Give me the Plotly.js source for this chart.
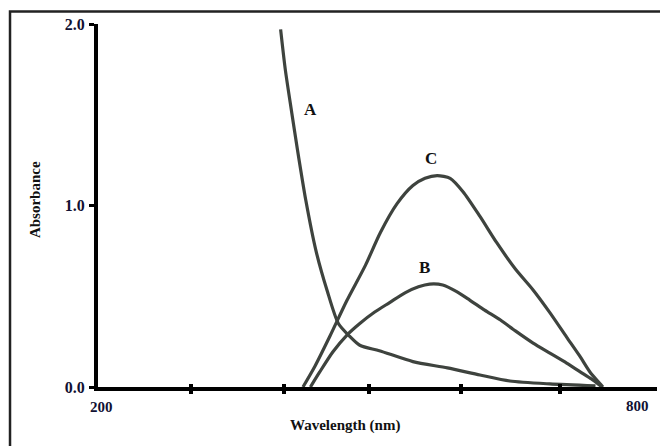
<!DOCTYPE html>
<html>
<head>
<meta charset="utf-8">
<script src="https://cdn.plot.ly/plotly-3.0.1.min.js"></script>
<style>html,body{margin:0;padding:0;background:#fff;}#chart{width:660px;height:446px;}</style>
</head>
<body>
<div id="chart"></div>
<script>
// Curve A
const wavelengthA = [396, 401, 408, 414, 423, 434, 446, 458, 470, 481, 502, 538, 575, 610, 642, 685, 734];
const absorbanceA = [1.97, 1.75, 1.51, 1.31, 1.03, 0.75, 0.53, 0.35, 0.28, 0.23, 0.20, 0.14, 0.105, 0.066, 0.033, 0.017, 0.006];
// Curve B
const wavelengthB = [428, 438, 452, 467, 481, 497, 513, 530, 544, 556, 570, 585, 599, 615, 632, 648, 667, 685, 703, 721, 731, 741];
const absorbanceB = [0.0, 0.083, 0.193, 0.285, 0.350, 0.413, 0.465, 0.520, 0.552, 0.567, 0.562, 0.525, 0.479, 0.424, 0.369, 0.309, 0.242, 0.187, 0.132, 0.072, 0.039, 0.0];
// Curve C
const wavelengthC = [420, 433, 449, 467, 487, 503, 521, 538, 551, 564, 578, 592, 610, 628, 648, 667, 685, 703, 717, 728, 739, 742];
const absorbanceC = [0.0, 0.116, 0.281, 0.475, 0.670, 0.850, 1.010, 1.110, 1.150, 1.165, 1.150, 1.075, 0.940, 0.795, 0.650, 0.535, 0.410, 0.275, 0.171, 0.083, 0.017, 0.0];

const yTickVals = [0, 1, 2];
const yTickText = ["0.0", "1.0", "2.0"];
const xTickMarks = [300, 400, 491, 590, 696];
const xEndLabels = ["200", "800"];
const curveNames = ["A", "B", "C"];
const curveLabelPos = [[428, 1.53], [550, 0.66], [557, 1.26]];

const lineStyle = {color: '#3e433e', width: 3.2, shape: 'spline', smoothing: 0.7};
const serif = '"Liberation Serif", "Times New Roman", serif';

const traces = [
  {x: wavelengthA, y: absorbanceA, mode: 'lines', line: lineStyle, name: curveNames[0]},
  {x: wavelengthB, y: absorbanceB, mode: 'lines', line: lineStyle, name: curveNames[1]},
  {x: wavelengthC, y: absorbanceC, mode: 'lines', line: lineStyle, name: curveNames[2]},
  {x: [200, 800], y: [null, null], xaxis: 'x2', mode: 'lines', showlegend: false, hoverinfo: 'skip'}
];

const annotations = [];
curveNames.forEach((n, i) => {
  annotations.push({x: curveLabelPos[i][0], y: curveLabelPos[i][1], xref: 'x', yref: 'y', text: '<b>' + n + '</b>',
    showarrow: false, xanchor: 'center', yanchor: 'middle', font: {family: serif, size: 17, color: '#111'}});
});
annotations.push({x: 0.007, y: -0.055, xref: 'paper', yref: 'paper', text: '<b>' + xEndLabels[0] + '</b>', showarrow: false,
  xanchor: 'center', yanchor: 'middle', font: {family: serif, size: 15, color: '#111133'}});
annotations.push({x: 0.966, y: -0.053, xref: 'paper', yref: 'paper', text: '<b>' + xEndLabels[1] + '</b>', showarrow: false,
  xanchor: 'center', yanchor: 'middle', font: {family: serif, size: 15, color: '#111133'}});
annotations.push({x: 0.442, y: -0.107, xref: 'paper', yref: 'paper', text: '<b>Wavelength (nm)</b>', showarrow: false,
  xanchor: 'center', yanchor: 'middle', font: {family: serif, size: 15, color: '#111'}});
annotations.push({x: -0.1127, y: 0.515, xref: 'paper', yref: 'paper', text: '<b>Absorbance</b>', showarrow: false, textangle: -90,
  xanchor: 'center', yanchor: 'middle', font: {family: serif, size: 15, color: '#111'}});

const layout = {
  width: 660, height: 446,
  margin: {l: 98, r: 3, t: 24, b: 59},
  paper_bgcolor: '#fff', plot_bgcolor: '#fff',
  showlegend: false,
  font: {family: serif},
  xaxis: {range: [200, 800], showgrid: false, zeroline: false, showline: true, linecolor: '#000', linewidth: 4,
    tickvals: xTickMarks, ticktext: xTickMarks.map(() => ''), ticks: 'outside', ticklen: 3, tickwidth: 4, tickcolor: '#000'},
  xaxis2: {range: [200, 800], overlaying: 'x', anchor: 'y', side: 'bottom', showgrid: false, zeroline: false, showline: false,
    tickvals: xTickMarks, ticktext: xTickMarks.map(() => ''), ticks: 'inside', ticklen: 3, tickwidth: 4, tickcolor: '#000'},
  yaxis: {range: [0, 2], showgrid: false, zeroline: false, showline: true, linecolor: '#000', linewidth: 4,
    tickvals: yTickVals, ticktext: yTickText.map(t => '<b>' + t + '</b>'), ticks: 'outside', ticklen: 5, tickwidth: 3, tickcolor: '#000',
    ticklabelstandoff: 1, tickfont: {family: serif, size: 16, color: '#111133'}},
  shapes: [{type: 'rect', xref: 'paper', yref: 'paper', x0: -0.1574, x1: 1.06, y0: -0.2, y1: 1.0344,
    line: {color: '#222', width: 2.5}}],
  annotations: annotations
};

Plotly.newPlot('chart', traces, layout, {displayModeBar: false, staticPlot: true});
</script>
</body>
</html>
